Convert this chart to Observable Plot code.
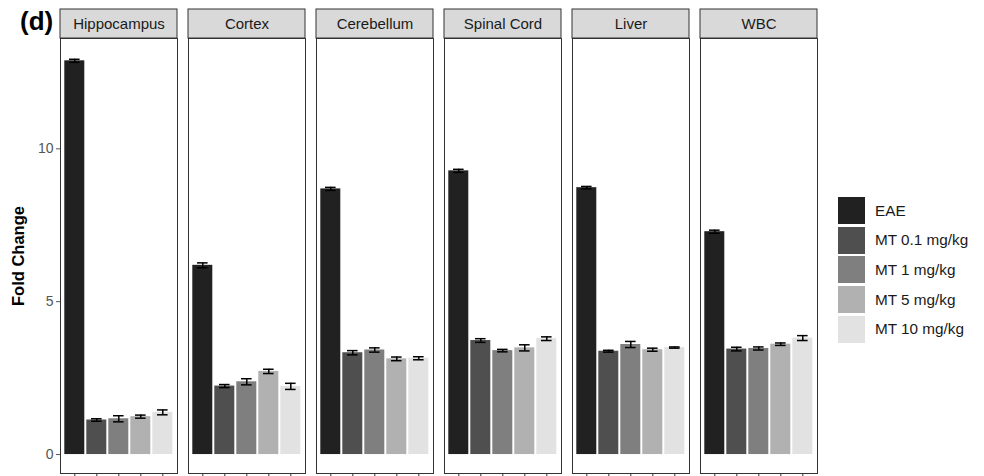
<!DOCTYPE html>
<html><head><meta charset="utf-8">
<script src="https://cdn.jsdelivr.net/npm/d3@7"></script>
<script src="https://cdn.jsdelivr.net/npm/@observablehq/plot@0.6"></script>
<style>
body{margin:0;background:#fff;font-family:"Liberation Sans",Arial,Helvetica,sans-serif}
#wrap{position:relative;width:984px;height:476px;overflow:hidden}
#tag{position:absolute;left:20px;top:8px;font-size:26px;font-weight:bold;line-height:1;color:#000}
#ylab{position:absolute;left:18px;top:256px;transform:translate(-50%,-50%) rotate(-90deg);font-size:16.5px;font-weight:bold;white-space:nowrap;color:#000}
#legend{position:absolute;left:838px;top:197px}
.item{display:flex;align-items:center;height:27px;margin-bottom:2.7px}
.key{width:26.5px;height:27px;margin-right:10.5px}
.lab{font-size:15.3px;color:#1a1a1a}
</style></head><body>
<div id="wrap"><div id="tag">(d)</div><div id="ylab">Fold Change</div><div id="legend"></div></div>
<script>
const panels = ["Hippocampus", "Cortex", "Cerebellum", "Spinal Cord", "Liver", "WBC"];
const groups = ["EAE", "MT 0.1 mg/kg", "MT 1 mg/kg", "MT 5 mg/kg", "MT 10 mg/kg"];
const colors = ["#212121", "#4f4f4f", "#7f7f7f", "#b1b1b1", "#e2e2e2"];
const hippocampus = [12.88, 1.13, 1.17, 1.24, 1.38];
const cortex      = [6.19, 2.24, 2.38, 2.72, 2.23];
const cerebellum  = [8.69, 3.33, 3.42, 3.13, 3.15];
const spinalCord  = [9.28, 3.73, 3.40, 3.49, 3.79];
const liver       = [8.73, 3.38, 3.60, 3.43, 3.50];
const wbc         = [7.29, 3.45, 3.47, 3.61, 3.81];
const hippocampusErr = [0.05, 0.04, 0.10, 0.05, 0.08];
const cortexErr      = [0.08, 0.05, 0.10, 0.07, 0.10];
const cerebellumErr  = [0.05, 0.07, 0.07, 0.06, 0.05];
const spinalCordErr  = [0.05, 0.06, 0.04, 0.10, 0.06];
const liverErr       = [0.04, 0.03, 0.10, 0.05, 0.02];
const wbcErr         = [0.05, 0.06, 0.05, 0.04, 0.08];
const yTicks = [0, 5, 10];

const values = [hippocampus, cortex, cerebellum, spinalCord, liver, wbc];
const errors = [hippocampusErr, cortexErr, cerebellumErr, spinalCordErr, liverErr, wbcErr];
const data = [];
panels.forEach((p, i) => groups.forEach((g, j) => data.push({panel: p, group: g, value: values[i][j], err: errors[i][j]})));

const yDomain = [-0.62, 13.61];
const pxPerUnit = (476 - 38 - 3) / (yDomain[1] - yDomain[0]);
const stripH = 29 / pxPerUnit;
const strips = panels.map(p => ({panel: p}));

const plot = Plot.plot({
  width: 830, height: 476,
  marginLeft: 58.7, marginRight: 12, marginTop: 38, marginBottom: 3,
  style: {fontFamily: '"Liberation Sans", Arial, Helvetica, sans-serif', background: "white", overflow: "visible"},
  fx: {domain: panels, paddingInner: 0.0864, paddingOuter: 0, axis: null, label: null},
  x: {domain: groups, paddingInner: 0.1, paddingOuter: 0.15, axis: null, label: null},
  y: {domain: yDomain, axis: null},
  color: {domain: groups, range: colors},
  marks: [
    Plot.barY(data, {fx: "panel", x: "group", y: "value", fill: "group"}),
    Plot.ruleX(data, {fx: "panel", x: "group", y1: d => d.value - d.err, y2: d => d.value + d.err, stroke: "black", strokeWidth: 1.5}),
    Plot.tickY(data, {fx: "panel", x: "group", y: d => d.value - d.err, inset: 4.7, stroke: "black", strokeWidth: 1.5}),
    Plot.tickY(data, {fx: "panel", x: "group", y: d => d.value + d.err, inset: 4.7, stroke: "black", strokeWidth: 1.5}),
    Plot.frame({stroke: "#333", strokeWidth: 1}),
    Plot.rect(strips, {fx: "panel", y1: yDomain[1], y2: yDomain[1] + stripH, fill: "#d9d9d9", stroke: "#333", strokeWidth: 1}),
    Plot.text(strips, {fx: "panel", y: yDomain[1] + stripH / 2, text: "panel", fontSize: 15, fill: "#1a1a1a"}),
    Plot.axisY({ticks: yTicks, tickSize: 4, tickPadding: 3, fontSize: 14, color: "#555", label: null}),
    Plot.axisX({tickSize: 5, tickFormat: () => "", label: null, color: "#333"})
  ]
});
document.getElementById("wrap").prepend(plot);

const legend = document.getElementById("legend");
groups.forEach((g, i) => {
  const item = document.createElement("div");
  item.className = "item";
  item.innerHTML = `<div class="key" style="background:${colors[i]}"></div><div class="lab">${g}</div>`;
  legend.appendChild(item);
});
</script>
</body></html>
